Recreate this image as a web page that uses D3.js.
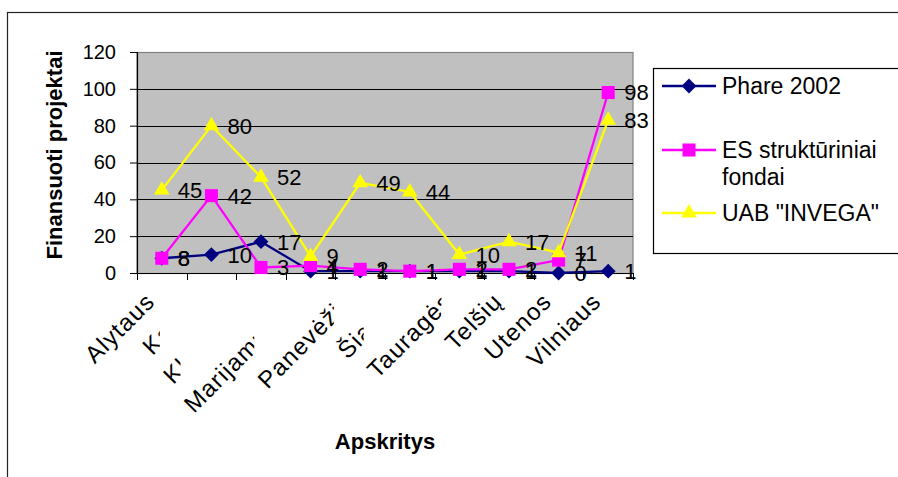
<!DOCTYPE html>
<html>
<head>
<meta charset="utf-8">
<script src="https://cdn.jsdelivr.net/npm/d3@7"></script>
<style>
  body { margin: 0; background: #fff; }
  svg text { font-family: "Liberation Sans", Arial, sans-serif; fill: #000; }
</style>
</head>
<body>
<svg id="chart" width="898" height="477"></svg>
<script>
// County names (genitive, as used for "apskritis")
const categories = ["Alytaus", "Kauno", "Klaipėdos", "Marijampolės", "Panevėžio",
                    "Šiaulių", "Tauragės", "Telšių", "Utenos", "Vilniaus"];
// Financed projects per funding source
const phare   = [8, 10, 17, 1, 1, 1, 1, 1, 0, 1];
const esFunds = [8, 42, 3, 4, 2, 1, 2, 2, 7, 98];
const invega  = [45, 80, 52, 9, 49, 44, 10, 17, 11, 83];
const yTicks  = [0, 20, 40, 60, 80, 100, 120];
const seriesNames = ["Phare 2002", "ES struktūriniai fondai", "UAB \"INVEGA\""];
const yTitle = "Finansuoti projektai";
const xTitle = "Apskritys";

const svg = d3.select("#chart");
const defs = svg.append("defs");
const plot = { left: 137, top: 52, right: 633, bottom: 273 };

const x = d3.scaleBand().domain(categories).range([plot.left, plot.right]).padding(0);
const y = d3.scaleLinear().domain([0, 120]).range([plot.bottom, plot.top]);
const cx = i => x(categories[i]) + x.bandwidth() / 2;

// outer chart frame
svg.append("rect")
  .attr("x", 7.5).attr("y", 12.5).attr("width", 1000).attr("height", 1000)
  .attr("fill", "#fff").attr("stroke", "#222").attr("stroke-width", 1.2);

// plot area
svg.append("rect")
  .attr("x", plot.left).attr("y", plot.top + 0.5)
  .attr("width", plot.right - plot.left).attr("height", plot.bottom - plot.top)
  .attr("fill", "#c0c0c0").attr("stroke", "#808080").attr("stroke-width", 1.2);

// horizontal gridlines
svg.append("g").selectAll("line")
  .data(yTicks.filter(v => v > 0 && v < 120))
  .join("line")
  .attr("x1", plot.left).attr("x2", plot.right)
  .attr("y1", d => Math.round(y(d)) + 0.5).attr("y2", d => Math.round(y(d)) + 0.5)
  .attr("stroke", "#000").attr("stroke-width", 1);

// y axis
const yAxis = svg.append("g")
  .attr("transform", `translate(${plot.left},0)`)
  .call(d3.axisLeft(y).tickValues(yTicks).tickSize(7).tickPadding(14).tickFormat(d3.format("d")));
yAxis.select(".domain").attr("stroke", "#000").attr("stroke-width", 1.2);
yAxis.selectAll(".tick line").attr("stroke", "#000");
yAxis.selectAll(".tick text").attr("font-size", 20).attr("font-family", "Liberation Sans, Arial, sans-serif");

// x axis: baseline and ticks between categories
const xAxis = svg.append("g");
xAxis.append("line")
  .attr("x1", plot.left).attr("x2", plot.right)
  .attr("y1", plot.bottom + 0.5).attr("y2", plot.bottom + 0.5)
  .attr("stroke", "#000").attr("stroke-width", 1.2);
const bounds = categories.map(c => x(c)).concat([x(categories[categories.length - 1]) + x.bandwidth()]);
xAxis.selectAll("line.tick").data(bounds).join("line")
  .attr("class", "tick")
  .attr("x1", d => Math.round(d) + 0.5).attr("x2", d => Math.round(d) + 0.5)
  .attr("y1", plot.bottom).attr("y2", plot.bottom + 7)
  .attr("stroke", "#000");

// rotated category labels; the ones below sit under the box of the label that follows
const partlyHidden = new Set(["Kauno", "Klaipėdos", "Marijampolės", "Panevėžio", "Šiaulių", "Tauragės"]);
const labelLayer = svg.append("g");
const labels = categories.map((c, i) => {
  const g = labelLayer.append("g");
  const t = g.append("text")
    .attr("transform", `translate(${cx(i) - 5.5},303) rotate(-45)`)
    .attr("text-anchor", "end")
    .attr("font-size", 24)
    .attr("letter-spacing", 1.2)
    .text(c);
  return { g, t, c };
});
const svgBox = svg.node().getBoundingClientRect();
labels.forEach((l, i) => {
  if (!partlyHidden.has(l.c) || i === labels.length - 1) return;
  const nb = labels[i + 1].t.node().getBoundingClientRect();
  const cut = nb.left - svgBox.left + 2;
  const id = "lblclip" + i;
  defs.append("clipPath").attr("id", id)
    .append("rect").attr("x", 0).attr("y", 0).attr("width", cut).attr("height", 477);
  l.g.attr("clip-path", `url(#${id})`);
});

// series
const series = [
  { name: seriesNames[0], values: phare,   color: "#000080", symbol: d3.symbolDiamond2, size: 140 },
  { name: seriesNames[1], values: esFunds, color: "#ff00ff", symbol: d3.symbolSquare,   size: 170 },
  { name: seriesNames[2], values: invega,  color: "#ffff00", symbol: d3.symbolTriangle, size: 105 }
];

const line = d3.line().x((d, i) => cx(i)).y(d => y(d));

series.forEach(s => {
  const g = svg.append("g");
  g.append("path").datum(s.values)
    .attr("d", line).attr("fill", "none")
    .attr("stroke", s.color).attr("stroke-width", 2.3);
  g.selectAll("path.mk").data(s.values).join("path")
    .attr("class", "mk")
    .attr("transform", (d, i) => `translate(${cx(i)},${y(d)})`)
    .attr("d", d3.symbol().type(s.symbol).size(s.size))
    .attr("fill", s.color);
});

// value labels to the right of each point
series.forEach(s => {
  svg.append("g").selectAll("text").data(s.values).join("text")
    .attr("x", (d, i) => cx(i) + 16)
    .attr("y", d => y(d))
    .attr("dy", "0.36em")
    .attr("font-size", 22)
    .text(d => d);
});

// axis titles
svg.append("text")
  .attr("transform", `translate(62,155) rotate(-90)`)
  .attr("text-anchor", "middle")
  .attr("font-size", 22).attr("font-weight", "bold")
  .text(yTitle);
svg.append("text")
  .attr("x", (plot.left + plot.right) / 2).attr("y", 449)
  .attr("text-anchor", "middle")
  .attr("font-size", 22).attr("font-weight", "bold")
  .text(xTitle);

// legend
const legend = svg.append("g");
legend.append("rect")
  .attr("x", 653.5).attr("y", 68.5).attr("width", 400).attr("height", 185)
  .attr("fill", "#fff").attr("stroke", "#000").attr("stroke-width", 1.2);
const legendRows = [
  { s: series[0], y: 86,  lines: ["Phare 2002"] },
  { s: series[1], y: 150, lines: ["ES struktūriniai", "fondai"] },
  { s: series[2], y: 213, lines: ["UAB \"INVEGA\""] }
];
legendRows.forEach(r => {
  legend.append("line")
    .attr("x1", 662).attr("x2", 716).attr("y1", r.y).attr("y2", r.y)
    .attr("stroke", r.s.color).attr("stroke-width", 2.3);
  legend.append("path")
    .attr("transform", `translate(689,${r.y})`)
    .attr("d", d3.symbol().type(r.s.symbol).size(r.s.size))
    .attr("fill", r.s.color);
  const t = legend.append("text").attr("x", 722).attr("y", r.y + 8).attr("font-size", 23);
  r.lines.forEach((ln, k) => {
    t.append("tspan").attr("x", 722).attr("dy", k === 0 ? 0 : 27).text(ln);
  });
});
</script>
</body>
</html>
